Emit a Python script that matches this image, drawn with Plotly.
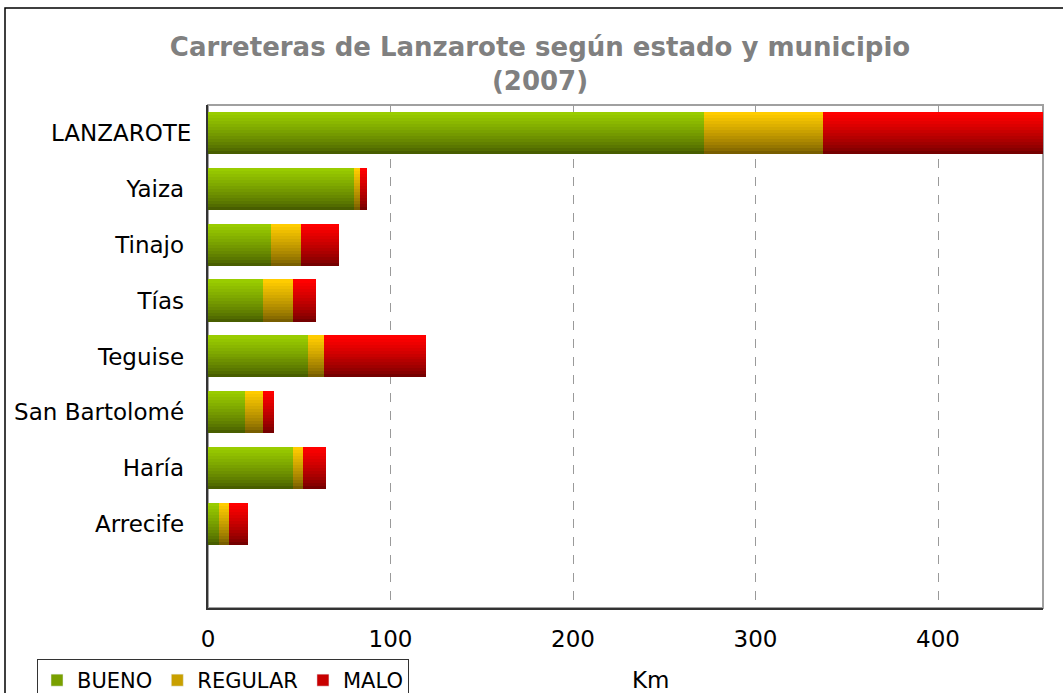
import plotly.graph_objects as go

categories = ["Arrecife", "Haría", "San Bartolomé", "Teguise", "Tías", "Tinajo", "Yaiza", "LANZAROTE"]
bueno = [6.0, 46.6, 20.3, 54.8, 30.1, 34.5, 80.0, 272.0]
regular = [5.5, 5.5, 9.8, 8.8, 16.5, 16.5, 3.3, 65.0]
malo = [10.4, 12.6, 6.1, 55.9, 12.6, 20.8, 3.8, 121.0]
series_names = ["BUENO", "REGULAR", "MALO"]
x_ticks = [0, 100, 200, 300, 400]

top_colors = [(0x99, 0xCC, 0x00), (0xFF, 0xCC, 0x00), (0xFF, 0x00, 0x00)]
bot_colors = [(0x48, 0x5E, 0x00), (0x78, 0x5E, 0x00), (0x75, 0x00, 0x00)]

FONT = "DejaVu Sans"
FS = 23
N = 14
BW = 0.75

fig = go.Figure()
series = [bueno, regular, malo]
bases = []
cum = [0.0] * len(categories)
for s in series:
    bases.append(list(cum))
    cum = [c + v for c, v in zip(cum, s)]

def mix(a, b, t):
    return "rgb(%d,%d,%d)" % tuple(round(a[k] + (b[k] - a[k]) * t) for k in range(3))

for si, (name, vals) in enumerate(zip(series_names, series)):
    for i in range(N):
        t = (i / (N - 1)) ** 0.8
        col = mix(bot_colors[si], top_colors[si], t)
        fig.add_trace(go.Bar(
            y=categories, x=vals, base=bases[si], orientation="h",
            width=BW / N + 0.004, offset=-BW / 2 + i * BW / N,
            marker=dict(color=col, line=dict(width=0)),
            name=name, legendgroup=name, showlegend=False, hoverinfo="skip",
        ))
    fig.add_trace(go.Bar(
        y=[None], x=[None], orientation="h", name=name, legendgroup=name,
        marker=dict(color=mix(bot_colors[si], top_colors[si], 0.6)),
        showlegend=True,
    ))

L, R, T, B = 208, 20, 105, 85
W, H = 1063, 693
pw = W - L - R
ph = H - T - B

def px_x(x):
    return (x - L) / pw

def px_y(y):
    return (H - B - y) / ph

tick_text = [c if c == "LANZAROTE" else c + "\u00a0" for c in categories]

fig.update_layout(
    width=W, height=H,
    barmode="overlay",
    bargap=0,
    plot_bgcolor="white", paper_bgcolor="white",
    margin=dict(l=L, r=R, t=T, b=B, autoexpand=False),
    font=dict(family=FONT, size=FS, color="black"),
    title=dict(
        text="<b>Carreteras de Lanzarote según estado y municipio<br>(2007)</b>",
        x=540 / W, xanchor="center", y=1 - 56 / H, yanchor="middle",
        font=dict(family=FONT, size=26, color="#808080"),
    ),
    xaxis=dict(
        range=[0, 457.5], tickvals=x_ticks, ticktext=[str(v) for v in x_ticks],
        showgrid=True, gridcolor="#9a9a9a", griddash="dash", gridwidth=1,
        showline=True, linecolor="#333333", linewidth=2,
        ticks="", ticklabelstandoff=9, zeroline=False, automargin=False,
        tickfont=dict(size=FS),
    ),
    yaxis=dict(
        type="category", categoryorder="array", categoryarray=categories,
        tickvals=categories, ticktext=tick_text,
        range=[-1.5, 7.5],
        showline=True, linecolor="#333333", linewidth=2,
        ticks="", ticklabelstandoff=10, showgrid=False, automargin=False,
        tickfont=dict(size=FS),
    ),
    legend=dict(
        orientation="h", x=px_x(37), xanchor="left", y=px_y(659), yanchor="top",
        bordercolor="#333333", borderwidth=1, bgcolor="white",
        font=dict(size=21), itemwidth=30, tracegroupgap=0,
    ),
    showlegend=True,
)

fig.add_annotation(text="Km", xref="paper", yref="paper", x=px_x(651), y=px_y(680),
                   showarrow=False, font=dict(size=FS), xanchor="center", yanchor="middle")

fig.add_shape(type="rect", xref="paper", yref="paper", x0=0, y0=0, x1=1, y1=1,
              line=dict(color="#a0a0a0", width=2), layer="below")
fig.add_shape(type="rect", xref="paper", yref="paper",
              x0=px_x(5), y0=px_y(720), x1=px_x(1100), y1=px_y(8),
              line=dict(color="black", width=1.5), layer="below")

fig.write_html("out.html", config={"displayModeBar": False},
               post_script="document.body.style.margin='0px';")
